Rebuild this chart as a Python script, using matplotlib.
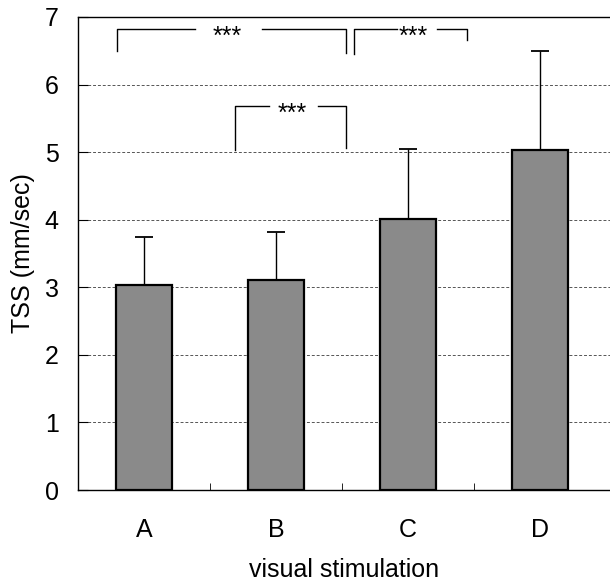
import matplotlib
matplotlib.use("Agg")
import matplotlib.pyplot as plt

plt.rcParams['font.family'] = ['Liberation Sans', 'DejaVu Sans']

categories = ["A", "B", "C", "D"]
means = [3.03, 3.11, 4.01, 5.03]
sd_upper = [0.71, 0.71, 1.03, 1.46]
y_ticks = [0, 1, 2, 3, 4, 5, 6, 7]

# significance brackets: (x_left, x_right, y_left_bottom, y_right_bottom, y_top, label, gap_left, gap_right, text_x)
brackets = [
    (-0.205, 1.53, 6.49, 6.46, 6.82, "***", 0.386, 0.894, 0.63),
    (1.59, 2.45, 6.45, 6.66, 6.82, "***", 1.917, 2.22, 2.04),
    (0.69, 1.53, 5.03, 5.06, 5.68, "***", 0.947, 1.318, 1.12),
]

fig = plt.figure(figsize=(6.1, 5.83), dpi=100)
ax = fig.add_axes([78/610, 93/583, 532/610, 473/583])

x = list(range(len(categories)))
ax.bar(x, means, width=0.424, color='#8a8a8a', edgecolor='black', linewidth=1.6, zorder=3)
ax.errorbar(x, means, yerr=[[0]*len(means), sd_upper], fmt='none', ecolor='black',
            elinewidth=1.0, capsize=6.5, capthick=1.3, zorder=2)

ax.set_xlim(-0.5, 3.53)
ax.set_ylim(0, 7)
ax.set_yticks(y_ticks)
ax.set_xticks(x)
ax.set_xticklabels(categories)
ax.set_xticks([0.5, 1.5, 2.5], minor=True)

ax.tick_params(axis='y', direction='in', length=7, width=0.8, labelsize=18, pad=14)
ax.tick_params(axis='x', which='major', length=0, labelsize=18, pad=20)
ax.tick_params(axis='x', which='minor', direction='in', length=5, width=0.6)

ax.spines['right'].set_visible(False)
for s in ['left', 'bottom', 'top']:
    ax.spines[s].set_linewidth(1.0)

ax.yaxis.grid(True, linestyle=(0, (3, 2)), color='#555555', linewidth=0.7, zorder=0)
ax.set_axisbelow(True)

ax.set_ylabel("TSS (mm/sec)", fontsize=18, labelpad=7)
ax.set_xlabel("visual stimulation", fontsize=18, labelpad=12)

for xl, xr, yl, yr, yt, lab, gl, gr, tx in brackets:
    ax.plot([xl, xl, gl], [yl, yt, yt], color='black', linewidth=1.0, zorder=4)
    ax.plot([gr, xr, xr], [yt, yt, yr], color='black', linewidth=1.0, zorder=4)
    ax.annotate(lab, xy=(tx, yt), xytext=(0, -10.5), textcoords='offset points',
                ha='center', va='baseline', fontsize=18, zorder=5)

fig.savefig("out.png", dpi=100)
